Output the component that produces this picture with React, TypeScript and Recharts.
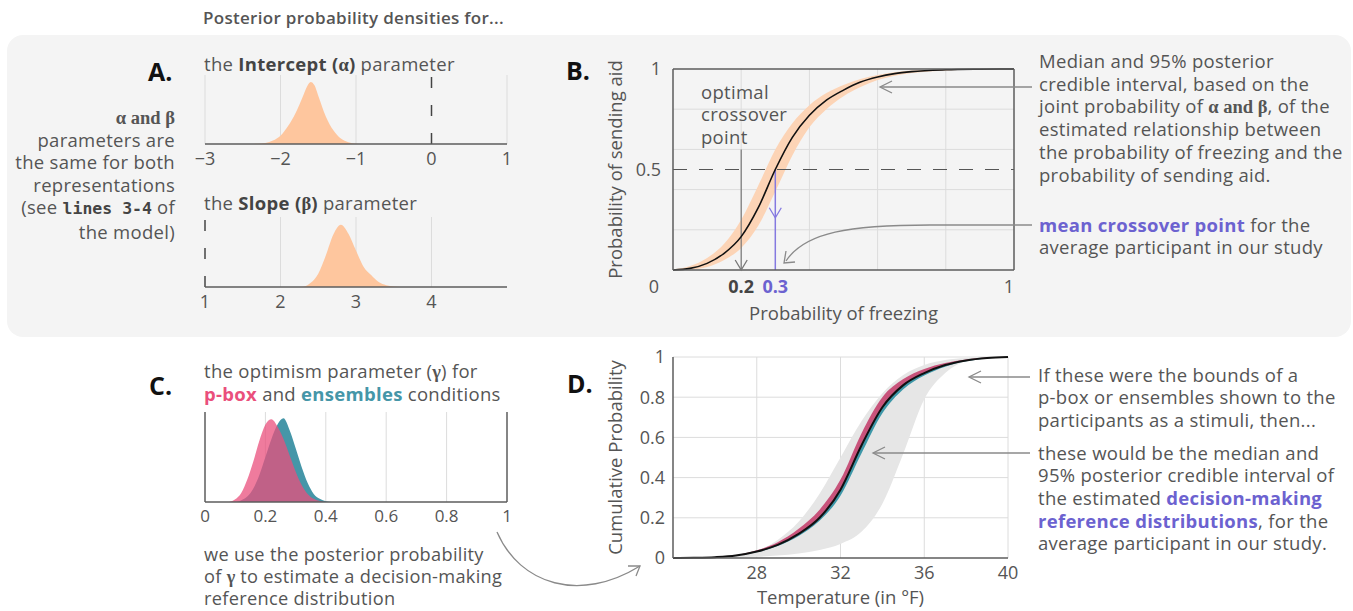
import React from "react";
import {
  ComposedChart,
  Area,
  Line,
  XAxis,
  YAxis,
  ReferenceLine,
  ReferenceDot,
  CartesianGrid,
} from "recharts";

const FONT = "'Open Sans', 'Noto Sans', sans-serif";
const SERIF = "'Liberation Serif', 'DejaVu Serif', serif";
const MONO = "'DejaVu Sans Mono', 'Liberation Mono', monospace";
const FS = 18.5;
const TXT = "#555";
const DARK = "#5c5c5c";
const GRID = "#dcdcdc";
const PEACH = "#fec69e";
const PEACH_BAND = "#fcd4b6";
const PINK = "#ea4f7c";
const TEAL = "#4596a8";
const PINK_D = "#c4436f";
const TEAL_D = "#3d97a8";
const PURPLE = "#6c62d0";
const PURPLE_LINE = "#8479e0";

// A. intercept (alpha) posterior density
const alphaX = [-2.4, -2.3, -2.2, -2.1, -2.0, -1.9, -1.8, -1.7, -1.65, -1.6, -1.55, -1.5, -1.4, -1.3, -1.2, -1.1, -1.0, -0.9];
const alphaDens = [0, 0.005, 0.015, 0.05, 0.12, 0.26, 0.45, 0.7, 0.83, 0.9, 0.85, 0.7, 0.4, 0.2, 0.08, 0.025, 0.005, 0];

// A. slope (beta) posterior density
const betaX = [2.2, 2.3, 2.4, 2.5, 2.6, 2.7, 2.8, 2.9, 3.0, 3.1, 3.2, 3.3, 3.4, 3.5, 3.6];
const betaDens = [0, 0.005, 0.06, 0.19, 0.45, 0.75, 0.89, 0.76, 0.52, 0.29, 0.17, 0.07, 0.025, 0.008, 0];

// B. probability of sending aid vs probability of freezing
const freezeX = [0, 0.05, 0.1, 0.15, 0.2, 0.25, 0.3, 0.35, 0.4, 0.45, 0.5, 0.55, 0.6, 0.65, 0.7, 0.8, 0.9, 1];
const aidMedian = [0, 0.008, 0.033, 0.083, 0.166, 0.31, 0.5, 0.66, 0.77, 0.845, 0.895, 0.935, 0.96, 0.977, 0.987, 0.996, 0.999, 1];
const aidUpper = [0.003, 0.02, 0.06, 0.13, 0.25, 0.42, 0.6, 0.73, 0.82, 0.88, 0.92, 0.95, 0.97, 0.984, 0.992, 0.998, 1, 1];
const aidLower = [0, 0.002, 0.015, 0.05, 0.11, 0.22, 0.39, 0.57, 0.71, 0.8, 0.865, 0.91, 0.945, 0.967, 0.98, 0.993, 0.998, 1];

// C. optimism (gamma) posterior densities
const gammaX = [0.08, 0.1, 0.12, 0.14, 0.16, 0.18, 0.2, 0.22, 0.24, 0.26, 0.28, 0.3, 0.32, 0.34, 0.36, 0.38, 0.4, 0.42];
const pboxDens = [0, 0.03, 0.1, 0.25, 0.45, 0.68, 0.86, 0.92, 0.84, 0.7, 0.52, 0.34, 0.19, 0.09, 0.035, 0.01, 0, 0];
const ensDens = [0, 0, 0.02, 0.06, 0.15, 0.3, 0.5, 0.7, 0.86, 0.93, 0.8, 0.6, 0.39, 0.21, 0.09, 0.035, 0.008, 0];

// D. cumulative probability vs temperature
const tempX = [24, 25, 26, 27, 28, 29, 30, 31, 32, 33, 34, 35, 36, 37, 38, 39, 40];
const cdfMedian = [0, 0.001, 0.004, 0.012, 0.032, 0.065, 0.12, 0.2, 0.34, 0.56, 0.75, 0.86, 0.92, 0.96, 0.983, 0.995, 1];
const grayHi = [0, 0.001, 0.004, 0.012, 0.035, 0.09, 0.18, 0.32, 0.5, 0.68, 0.82, 0.91, 0.96, 0.985, 0.995, 1, 1];
const grayLo = [0, 0, 0.001, 0.003, 0.006, 0.012, 0.022, 0.04, 0.07, 0.13, 0.27, 0.52, 0.79, 0.92, 0.98, 0.996, 1];
const pboxHi = [0, 0.001, 0.005, 0.014, 0.038, 0.078, 0.145, 0.24, 0.39, 0.62, 0.8, 0.89, 0.94, 0.97, 0.988, 0.997, 1];
const pboxLo = [0, 0.001, 0.004, 0.012, 0.031, 0.063, 0.117, 0.196, 0.335, 0.553, 0.745, 0.857, 0.918, 0.958, 0.982, 0.994, 1];
const ensHi = [0, 0.001, 0.004, 0.012, 0.032, 0.065, 0.12, 0.2, 0.34, 0.56, 0.75, 0.86, 0.92, 0.96, 0.983, 0.995, 1];
const ensLo = [0, 0.001, 0.003, 0.011, 0.028, 0.06, 0.11, 0.185, 0.31, 0.52, 0.72, 0.84, 0.908, 0.952, 0.979, 0.993, 1];

const alphaRows = alphaX.map((x, i) => ({ x, d: alphaDens[i] }));
const betaRows = betaX.map((x, i) => ({ x, d: betaDens[i] }));
const aidRows = freezeX.map((x, i) => ({ x, med: aidMedian[i], band: [aidLower[i], aidUpper[i]] }));
const gammaRows = gammaX.map((x, i) => ({ x, pbox: pboxDens[i], ens: ensDens[i] }));
const tempRows = tempX.map((x, i) => ({
  x,
  med: cdfMedian[i],
  gray: [grayLo[i], grayHi[i]],
  pbox: [pboxLo[i], pboxHi[i]],
  ens: [ensLo[i], ensHi[i]],
}));

const minus = (v: number) => String(v).replace("-", "\u2212");
const axisStyle = { stroke: DARK, strokeWidth: 1.5 };

const arrowDown = (color: string) => (p: any) => (
  <path
    d={`M${p.cx - 6},${p.cy - 10} L${p.cx},${p.cy} L${p.cx + 6},${p.cy - 10}`}
    stroke={color}
    strokeWidth={1.3}
    fill="none"
  />
);

const CrossTick = (p: any) => {
  const v = p.payload.value;
  const st =
    v === 0.2
      ? { fill: "#444", fontWeight: 700 }
      : v === 0.3
      ? { fill: PURPLE, fontWeight: 700 }
      : { fill: TXT };
  return (
    <text x={v === 1 ? p.x - 5 : p.x} y={p.y} dy={15} textAnchor="middle" fontSize={18} {...st}>
      {v}
    </text>
  );
};

const AidTick = (p: any) => {
  const v = p.payload.value;
  return (
    <text x={p.x - (v === 0 ? 6 : 4)} y={p.y + (v === 0 ? 17 : 0)} dy={6} textAnchor="end" fontSize={18} fill={TXT}>
      {v}
    </text>
  );
};

const Box = ({ x, y, lh = 22.7, size = FS, right, children, style }: any) => (
  <div
    style={{
      position: "absolute",
      top: y,
      ...(right !== undefined ? { right: 1353 - right, textAlign: "right" } : { left: x }),
      fontSize: size,
      lineHeight: `${lh}px`,
      letterSpacing: 0.3,
      whiteSpace: "nowrap",
      color: TXT,
      ...style,
    }}
  >
    {children}
  </div>
);

const Letter = ({ x, y, children }: any) => (
  <div style={{ position: "absolute", left: x, top: y, fontSize: 25, fontWeight: 700, color: "#111", lineHeight: "30px" }}>
    {children}
  </div>
);

const G = ({ children }: any) => (
  <span style={{ fontFamily: SERIF, fontWeight: 700, lineHeight: 1, letterSpacing: 0 }}>{children}</span>
);
const B = ({ children, color = "#444" }: any) => <span style={{ fontWeight: 700, color }}>{children}</span>;

export default function App() {
  return (
    <div style={{ position: "absolute", left: 0, top: 0, width: 1353, height: 611, overflow: "hidden", background: "#fff", fontFamily: FONT, color: TXT }}>
      <div style={{ position: "absolute", left: 7, top: 35, width: 1344, height: 302, borderRadius: 16, background: "#f4f4f4" }} />

      <Box x={203} y={7} lh={22} size={17} style={{ fontWeight: 600 }}>
        Posterior probability densities for...
      </Box>

      {/* A */}
      <Letter x={148} y={56}>A.</Letter>
      <Box right={175} y={106} lh={22.5}>
        <G>α and β</G>
        <br />
        parameters are
        <br />
        the same for both
        <br />
        representations
        <br />
        (see <span style={{ fontFamily: MONO, fontWeight: 700, fontSize: 16.5, letterSpacing: 0, color: "#444" }}>lines 3-4</span> of
        <br />
        the model)
      </Box>
      <Box x={204} y={53} lh={22}>
        the <B>Intercept (<G>α</G>)</B> parameter
      </Box>
      <Box x={204} y={192} lh={22}>
        the <B>Slope (<G>β</G>)</B> parameter
      </Box>

      <div style={{ position: "absolute", left: 195, top: 60 }}>
        <ComposedChart width={322} height={110} data={alphaRows} margin={{ top: 15, right: 10, left: 10, bottom: 0 }}>
          <CartesianGrid horizontal={false} verticalValues={[-3, -2, -1, 1]} stroke={GRID} />
          <XAxis dataKey="x" type="number" domain={[-3, 1]} ticks={[-3, -2, -1, 0, 1]} interval={0} tickLine={false} axisLine={axisStyle} tick={{ fill: TXT, fontSize: 18 }} tickFormatter={minus} height={26} />
          <YAxis hide domain={[0, 1]} />
          <Area dataKey="d" type="monotone" fill={PEACH} fillOpacity={1} stroke="none" isAnimationActive={false} />
          <ReferenceLine x={0} stroke="#444" strokeWidth={1.5} strokeDasharray="11 17" />
        </ComposedChart>
      </div>

      <div style={{ position: "absolute", left: 195, top: 202 }}>
        <ComposedChart width={322} height={111} data={betaRows} margin={{ top: 15, right: 10, left: 10, bottom: 0 }}>
          <CartesianGrid horizontal={false} verticalValues={[2, 3, 4]} stroke={GRID} />
          <XAxis dataKey="x" type="number" domain={[1, 5]} ticks={[1, 2, 3, 4]} interval={0} tickLine={false} axisLine={axisStyle} tick={{ fill: TXT, fontSize: 18 }} height={26} />
          <YAxis hide domain={[0, 1]} />
          <Area dataKey="d" type="monotone" fill={PEACH} fillOpacity={1} stroke="none" isAnimationActive={false} />
          <ReferenceLine x={1} stroke="#444" strokeWidth={1.5} strokeDasharray="11 17" />
        </ComposedChart>
      </div>

      {/* B */}
      <Letter x={566} y={55}>B.</Letter>
      <div style={{ position: "absolute", left: 600, top: 55 }}>
        <ComposedChart width={430} height={270} data={aidRows} margin={{ top: 14, right: 16, left: 13, bottom: 5 }}>
          <CartesianGrid stroke={GRID} verticalValues={[0.2, 0.4, 0.6, 0.8]} horizontalValues={[0.2, 0.4, 0.6, 0.8]} />
          <XAxis
            dataKey="x"
            type="number"
            domain={[0, 1]}
            ticks={[0.2, 0.3, 1]}
            interval={0}
            tickLine={false}
            axisLine={false}
            tick={CrossTick}
            height={50}
            label={{ value: "Probability of freezing", position: "insideBottom", offset: 0, fill: TXT, fontSize: FS }}
          />
          <YAxis
            type="number"
            domain={[0, 1]}
            ticks={[0, 0.5, 1]}
            interval={0}
            tickLine={false}
            axisLine={false}
            width={60}
            tick={AidTick}
            label={{ value: "Probability of sending aid", angle: -90, position: "insideLeft", offset: 2, fill: TXT, fontSize: FS, style: { textAnchor: "middle" } }}
          />
          <Area dataKey="band" type="monotone" fill={PEACH_BAND} fillOpacity={1} stroke="none" isAnimationActive={false} />
          <ReferenceLine y={0.5} stroke="#555" strokeWidth={1.2} strokeDasharray="14 12" />
          <ReferenceLine segment={[{ x: 0.2, y: 0.6 }, { x: 0.2, y: 0 }]} stroke="#777" strokeWidth={1.2} />
          <ReferenceDot x={0.2} y={0} shape={arrowDown("#777")} />
          <ReferenceLine segment={[{ x: 0.3, y: 0.5 }, { x: 0.3, y: 0 }]} stroke={PURPLE_LINE} strokeWidth={1.5} />
          <ReferenceDot x={0.3} y={0.26} shape={arrowDown(PURPLE_LINE)} />
          <Line dataKey="med" type="monotone" stroke="#111" strokeWidth={1.6} dot={false} isAnimationActive={false} />
          <ReferenceLine x={0} stroke={DARK} strokeWidth={1.5} />
          <ReferenceLine x={1} stroke={DARK} strokeWidth={1.5} />
          <ReferenceLine y={0} stroke={DARK} strokeWidth={1.5} />
          <ReferenceLine y={1} stroke={DARK} strokeWidth={1.5} />
        </ComposedChart>
      </div>
      <Box x={701} y={80.5} lh={22.5}>
        optimal
        <br />
        crossover
        <br />
        point
      </Box>
      <Box x={1039} y={50}>
        Median and 95% posterior
        <br />
        credible interval, based on the
        <br />
        joint probability of <G>α and β</G>, of the
        <br />
        estimated relationship between
        <br />
        the probability of freezing and the
        <br />
        probability of sending aid.
      </Box>
      <Box x={1039} y={213.6}>
        <B color={PURPLE}>mean crossover point</B> for the
        <br />
        average participant in our study
      </Box>

      {/* C */}
      <Letter x={149} y={370}>C.</Letter>
      <Box x={204} y={358.5} lh={23}>
        the optimism parameter (<G>γ</G>) for
        <br />
        <B color={PINK}>p-box</B> and <B color={TEAL}>ensembles</B> conditions
      </Box>
      <div style={{ position: "absolute", left: 195, top: 397 }}>
        <ComposedChart width={322} height={135} data={gammaRows} margin={{ top: 15, right: 10, left: 10, bottom: 0 }}>
          <CartesianGrid horizontal={false} verticalValues={[0.2, 0.4, 0.6, 0.8]} stroke={GRID} />
          <XAxis dataKey="x" type="number" domain={[0, 1]} ticks={[0, 0.2, 0.4, 0.6, 0.8, 1]} interval={0} tickLine={false} axisLine={axisStyle} tick={{ fill: TXT, fontSize: 17 }} height={30} />
          <YAxis hide domain={[0, 1]} />
          <Area dataKey="ens" type="monotone" fill={TEAL} fillOpacity={1} stroke="none" isAnimationActive={false} />
          <Area dataKey="pbox" type="monotone" fill={PINK} fillOpacity={0.75} stroke="none" isAnimationActive={false} />
          <ReferenceLine x={0} stroke={DARK} strokeWidth={1.5} />
          <ReferenceLine x={1} stroke={DARK} strokeWidth={1.5} />
        </ComposedChart>
      </div>
      <Box x={204} y={542.5} lh={22.3} size={18.2}>
        we use the posterior probability
        <br />
        of <G>γ</G> to estimate a decision-making
        <br />
        reference distribution
      </Box>

      {/* D */}
      <Letter x={567} y={368}>D.</Letter>
      <div style={{ position: "absolute", left: 600, top: 345 }}>
        <ComposedChart width={420} height={272} data={tempRows} margin={{ top: 12, right: 12, left: 13, bottom: 9 }}>
          <CartesianGrid stroke={GRID} verticalValues={[28, 32, 36, 40]} horizontalValues={[0.2, 0.4, 0.6, 0.8, 1]} />
          <XAxis
            dataKey="x"
            type="number"
            domain={[24, 40]}
            ticks={[28, 32, 36, 40]}
            interval={0}
            tickLine={false}
            axisLine={axisStyle}
            tick={{ fill: TXT, fontSize: 18 }}
            height={50}
            label={{ value: "Temperature (in °F)", position: "insideBottom", offset: 4, fill: TXT, fontSize: FS }}
          />
          <YAxis
            type="number"
            domain={[0, 1]}
            ticks={[0, 0.2, 0.4, 0.6, 0.8, 1]}
            interval={0}
            tickLine={false}
            axisLine={axisStyle}
            width={60}
            tick={{ fill: TXT, fontSize: 18 }}
            label={{ value: "Cumulative Probability", angle: -90, position: "insideLeft", offset: 2, fill: TXT, fontSize: FS, style: { textAnchor: "middle" } }}
          />
          <Area dataKey="gray" type="monotone" fill="#e6e6e6" fillOpacity={1} stroke="none" isAnimationActive={false} />
          <Area dataKey="ens" type="monotone" fill={TEAL_D} fillOpacity={1} stroke="none" isAnimationActive={false} />
          <Area dataKey="pbox" type="monotone" fill={PINK_D} fillOpacity={0.9} stroke="none" isAnimationActive={false} />
          <Line dataKey="med" type="monotone" stroke="#111" strokeWidth={2} dot={false} isAnimationActive={false} />
        </ComposedChart>
      </div>
      <Box x={1038} y={363.6}>
        If these were the bounds of a
        <br />
        p-box or ensembles shown to the
        <br />
        participants as a stimuli, then...
      </Box>
      <Box x={1038} y={441.6}>
        these would be the median and
        <br />
        95% posterior credible interval of
        <br />
        the estimated <B color={PURPLE}>decision-making</B>
        <br />
        <B color={PURPLE}>reference distributions</B>, for the
        <br />
        average participant in our study.
      </Box>

      {/* annotation arrows */}
      <svg width={1353} height={611} style={{ position: "absolute", left: 0, top: 0, pointerEvents: "none" }}>
        <g fill="none" stroke="#8a8a8a" strokeWidth={1.3}>
          <path d="M1032,87 L881,87" />
          <path d="M892,81 L880,87 L892,93" />
          <path d="M1032,225 L930,225 C850,225 805,232 786,261" />
          <path d="M786,251 L784,263 L795,262" />
          <path d="M1030,377 L970,377" />
          <path d="M981,371 L969,377 L981,383" />
          <path d="M1030,453 L874,453" />
          <path d="M885,447 L873,453 L885,459" />
          <path d="M497,532 C520,585 580,603 640,566" />
          <path d="M628,566 L640,566 L636,576" />
        </g>
      </svg>
    </div>
  );
}
